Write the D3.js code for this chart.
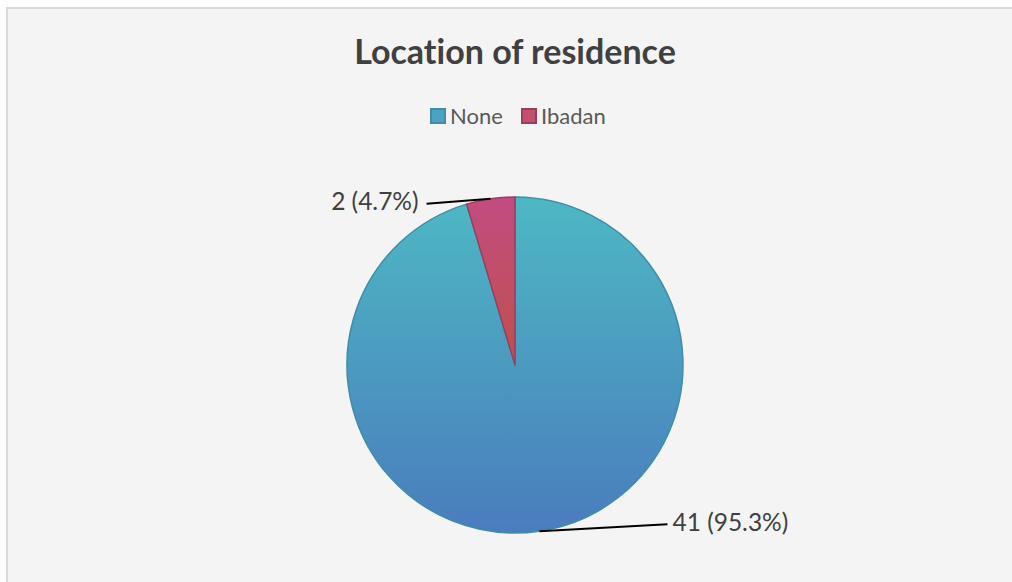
<!DOCTYPE html>
<html>
<head>
<meta charset="utf-8">
<script src="https://cdn.jsdelivr.net/npm/d3@7"></script>
<style>
  html, body { margin: 0; padding: 0; background: #ffffff; }
  svg { display: block; }
  text { font-variant-ligatures: none; }
</style>
</head>
<body>
<svg id="chart" width="1012" height="582"></svg>
<script>
// Respondents by location of residence
const categories = ["None", "Ibadan"];
const counts = [41, 2];
const chartTitle = "Location of residence";

const W = 1012, H = 582;
const svg = d3.select("#chart");

// chart panel with a light grey frame
svg.append("rect")
  .attr("x", 7).attr("y", 8)
  .attr("width", W + 10).attr("height", H + 10)
  .attr("fill", "#f4f4f4")
  .attr("stroke", "#d9d9d9").attr("stroke-width", 2);

svg.append("text")
  .attr("x", 515).attr("y", 64)
  .attr("text-anchor", "middle")
  .attr("font-family", "Lato, 'Open Sans', sans-serif")
  .attr("font-weight", "bold")
  .attr("font-size", 34)
  .attr("fill", "#404040")
  .text(chartTitle);

// gradients for each slice
const defs = svg.append("defs");
const fills = [
  { id: "g-none", top: "#4db8c3", bottom: "#4a7cbe" },
  { id: "g-ibadan", top: "#c24c80", bottom: "#c0504d" }
];
fills.forEach(f => {
  const g = defs.append("linearGradient")
    .attr("id", f.id).attr("x1", 0).attr("y1", 0).attr("x2", 0).attr("y2", 1);
  g.append("stop").attr("offset", "0%").attr("stop-color", f.top);
  g.append("stop").attr("offset", "100%").attr("stop-color", f.bottom);
});
const strokes = ["#3f8ea6", "#9c3d5e"];
const legendFill = ["#4aa3c0", "#c24f6e"];

const color = d3.scaleOrdinal().domain(categories).range(fills.map(f => `url(#${f.id})`));
const strokeColor = d3.scaleOrdinal().domain(categories).range(strokes);

// legend
const legendX = d3.scalePoint().domain(categories).range([430, 521]);
const legend = svg.append("g");
categories.forEach((c, i) => {
  const x = legendX(c);
  legend.append("rect")
    .attr("x", x + 1).attr("y", 109).attr("width", 14).attr("height", 14)
    .attr("fill", legendFill[i]).attr("stroke", strokeColor(c)).attr("stroke-width", 2);
  legend.append("text")
    .attr("x", x + 20).attr("y", 124)
    .attr("font-family", "Lato, 'Open Sans', sans-serif")
    .attr("font-size", 22)
    .attr("fill", "#595959")
    .text(c);
});

// pie
const cx = 515, cy = 365, r = 168;
const total = d3.sum(counts);
const data = categories.map((c, i) => ({ name: c, value: counts[i] }));
const pie = d3.pie().sort(null).value(d => d.value);
const arc = d3.arc().innerRadius(0).outerRadius(r);
const arcs = pie(data);

const g = svg.append("g").attr("transform", `translate(${cx},${cy})`);
g.selectAll("path.slice")
  .data(arcs)
  .join("path")
  .attr("class", "slice")
  .attr("d", arc)
  .attr("fill", d => color(d.data.name))
  .attr("stroke", d => strokeColor(d.data.name))
  .attr("stroke-width", 1.5)
  .attr("stroke-linejoin", "round");

// leader lines and value labels
const fmt = d => `${d.data.value} (${(d.data.value / total * 100).toFixed(1)}%)`;
const labelLayout = {
  "None":   { dx: 128, dy: -7, anchor: "start", gap: 5 },
  "Ibadan": { dx: -64, dy: 5,  anchor: "end",   gap: -8 }
};
arcs.forEach(d => {
  const mid = (d.startAngle + d.endAngle) / 2;
  const px = Math.sin(mid) * r, py = -Math.cos(mid) * r;
  const L = labelLayout[d.data.name];
  const ex = px + L.dx, ey = py + L.dy;
  g.append("line")
    .attr("x1", px).attr("y1", py).attr("x2", ex).attr("y2", ey)
    .attr("stroke", "#000").attr("stroke-width", 2);
  g.append("text")
    .attr("x", ex + L.gap).attr("y", ey - 2)
    .attr("dy", "0.35em")
    .attr("text-anchor", L.anchor)
    .attr("font-family", "Lato, 'Open Sans', sans-serif")
    .attr("font-size", 24.5)
    .attr("fill", "#404040")
    .text(fmt(d));
});
</script>
</body>
</html>
